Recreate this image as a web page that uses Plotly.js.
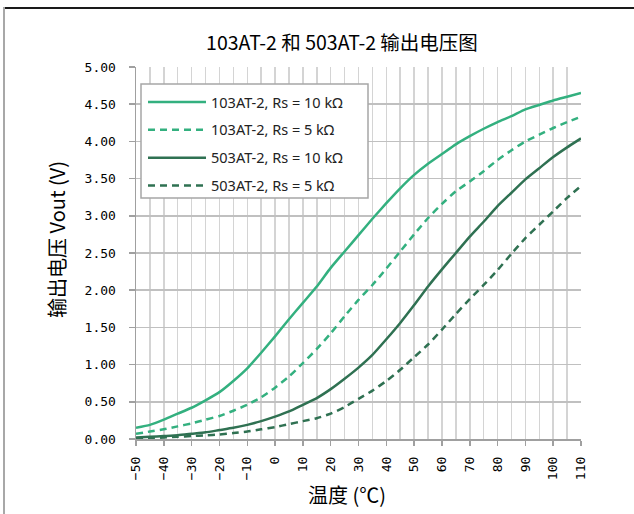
<!DOCTYPE html>
<html>
<head>
<meta charset="utf-8">
<script src="https://cdn.plot.ly/plotly-3.0.1.min.js"></script>
<style>
html,body{margin:0;padding:0;background:#fff;}
#wrap{position:relative;width:634px;height:514px;overflow:hidden;}
#chart{position:absolute;left:0;top:0;width:634px;height:514px;}
#topline{position:absolute;left:3px;top:7px;width:631px;height:2px;background:#1a1a1a;}
#leftline{position:absolute;left:3px;top:7px;width:2px;height:507px;background:#a8a8a8;}
</style>
</head>
<body>
<div id="wrap">
<div id="chart"></div>
<div id="topline"></div>
<div id="leftline"></div>
</div>
<script>
const temps = [-50,-45,-40,-35,-30,-25,-20,-15,-10,-5,0,5,10,15,20,25,30,35,40,45,50,55,60,65,70,75,80,85,90,95,100,105,110];
const v103_10k = [0.15,0.19,0.26,0.34,0.42,0.52,0.63,0.78,0.95,1.16,1.38,1.61,1.83,2.05,2.30,2.52,2.74,2.96,3.17,3.37,3.55,3.70,3.83,3.96,4.07,4.17,4.26,4.34,4.43,4.49,4.55,4.60,4.65];
const v103_5k = [0.07,0.10,0.13,0.17,0.21,0.26,0.31,0.38,0.46,0.56,0.69,0.84,1.02,1.21,1.42,1.65,1.87,2.07,2.29,2.52,2.75,2.97,3.16,3.33,3.46,3.60,3.75,3.88,4.00,4.09,4.18,4.26,4.33];
const v503_10k = [0.02,0.03,0.04,0.05,0.07,0.09,0.12,0.15,0.19,0.24,0.30,0.37,0.46,0.55,0.67,0.81,0.96,1.13,1.34,1.56,1.80,2.05,2.28,2.50,2.72,2.92,3.13,3.31,3.49,3.64,3.79,3.92,4.04];
const v503_5k = [0.00,0.01,0.02,0.03,0.04,0.05,0.06,0.08,0.10,0.13,0.16,0.20,0.24,0.28,0.34,0.43,0.54,0.65,0.78,0.93,1.10,1.27,1.47,1.68,1.88,2.07,2.27,2.49,2.70,2.88,3.06,3.24,3.40];
const seriesNames = ["103AT-2, Rs = 10 kΩ","103AT-2, Rs = 5 kΩ","503AT-2, Rs = 10 kΩ","503AT-2, Rs = 5 kΩ"];
const xTickVals = [-50,-40,-30,-20,-10,0,10,20,30,40,50,60,70,80,90,100,110];
const yTickVals = [0,0.5,1,1.5,2,2.5,3,3.5,4,4.5,5];

const lightGreen = "#33b07f";
const darkGreen = "#2f7152";
const series = [v103_10k, v103_5k, v503_10k, v503_5k];
const colors = [lightGreen, lightGreen, darkGreen, darkGreen];
const dashes = ["solid","7px,5px","solid","7px,5px"];

const traces = series.map((ys, i) => ({
  x: temps, y: ys, type: "scatter", mode: "lines",
  name: seriesNames[i], legendgroup: "g" + i,
  line: {color: colors[i], width: 2.5, dash: dashes[i], shape: "spline", smoothing: 0.5},
  hoverinfo: "skip"
}));

const L = 136, T = 67, W = 445, H = 372;
const px2x = p => (p - L) / W;
const px2y = p => (T + H - p) / H;
const layout = {
  width: 634, height: 514,
  margin: {l: L, r: 634 - L - W, t: T, b: 514 - T - H},
  paper_bgcolor: "rgba(0,0,0,0)", plot_bgcolor: "#fff",
  showlegend: true,
  title: {
    text: "103AT-2 和 503AT-2 输出电压图",
    font: {family: "Noto Sans CJK SC", size: 19.5, color: "#000"},
    x: px2x(342), xref: "paper", xanchor: "center",
    y: 1 - 43 / 514, yref: "container", yanchor: "middle"
  },
  legend: {
    x: px2x(142), y: px2y(85), xanchor: "left", yanchor: "top",
    bgcolor: "rgba(0,0,0,0)", bordercolor: "rgba(0,0,0,0)", borderwidth: 1,
    font: {family: "Noto Sans", size: 14.5, color: "#222"},
    tracegroupgap: 6, traceorder: "grouped",
    itemwidth: 58
  },
  shapes: [
    {type: "rect", xref: "paper", yref: "paper", layer: "above",
     x0: px2x(141), x1: px2x(368), y0: px2y(198), y1: px2y(84),
     fillcolor: "#fff", line: {color: "#a6a6a6", width: 1.5}}
  ],
  xaxis: {
    range: [-50, 110], tickmode: "array", tickvals: xTickVals,
    ticktext: xTickVals.map(v => v < 0 ? "−" + Math.abs(v) : String(v)),
    tickangle: -90, ticks: "outside", ticklen: 5, tickcolor: "#a0a0a0", tickwidth: 1.5,
    showgrid: true, gridcolor: "#d4d4d4", gridwidth: 1.5,
    minor: {dtick: 5, showgrid: true, gridcolor: "#d4d4d4", gridwidth: 1.5, ticks: ""},
    showline: true, linecolor: "#a0a0a0", linewidth: 1.5,
    zeroline: false,
    tickfont: {family: "DejaVu Sans Mono", size: 13, color: "#000"},
    ticklabelstandoff: 6
  },
  yaxis: {
    range: [0, 5], tickmode: "array", tickvals: yTickVals,
    ticktext: yTickVals.map(v => v.toFixed(2)),
    ticks: "outside", ticklen: 6, tickcolor: "#a0a0a0", tickwidth: 1.5,
    showgrid: true, gridcolor: "#c0c0c0", gridwidth: 1.5,
    showline: true, linecolor: "#a0a0a0", linewidth: 1.5,
    zeroline: false,
    tickfont: {family: "DejaVu Sans Mono", size: 13, color: "#000"},
    ticklabelstandoff: 10
  },
  annotations: [
    {text: "输出电压 Vout (V)", xref: "paper", yref: "paper",
     x: px2x(56), y: px2y(240), xanchor: "center", yanchor: "middle",
     textangle: -90, showarrow: false,
     font: {family: "Noto Sans CJK SC", size: 20, color: "#000"}},
    {text: "温度 (℃)", xref: "paper", yref: "paper",
     x: px2x(347), y: px2y(494), xanchor: "center", yanchor: "middle",
     showarrow: false,
     font: {family: "Noto Sans CJK SC", size: 20, color: "#000"}}
  ]
};

Plotly.newPlot("chart", traces, layout, {displayModeBar: false, staticPlot: true});
</script>
</body>
</html>
